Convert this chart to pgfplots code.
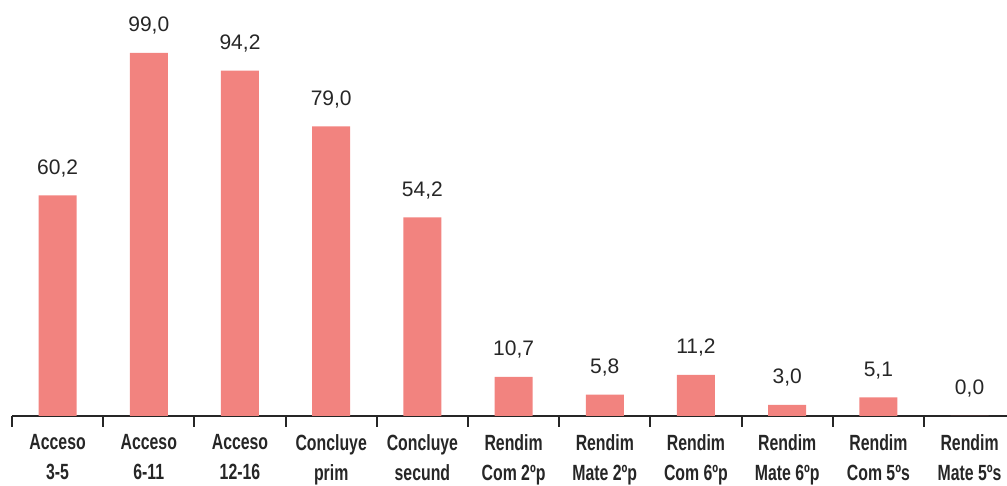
\documentclass[border=0pt]{standalone}
\usepackage{pgfplots}
\pgfplotsset{compat=1.18}
\usepackage{fontspec}
\setmainfont{Liberation Sans}
\newfontfamily\narrowbold[FakeStretch=0.72]{Liberation Sans Bold}
\definecolor{barcol}{HTML}{F2837F}
\begin{document}
\begin{tikzpicture}
\begin{axis}[
  at={(12pt,70pt)}, anchor=south west,
  scale only axis, width=1003.2pt, height=416pt,
  xmin=-0.5, xmax=10.5, ymin=0, ymax=113.45,
  axis x line*=bottom, axis y line=none,
  axis line style={line width=2pt, black!85},
  xtick={0,...,10},
  xticklabels={{Acceso\\3-5},{Acceso\\6-11},{Acceso\\12-16},{Concluye\\prim},{Concluye\\secund},{Rendim\\Com 2ºp},{Rendim\\Mate 2ºp},{Rendim\\Com 6ºp},{Rendim\\Mate 6ºp},{Rendim\\Com 5ºs},{Rendim\\Mate 5ºs}},
  major tick length=0pt,
  minor xtick={-0.5,0.5,...,10.5},
  minor tick length=11pt,
  tick align=outside,
  minor tick style={line width=2pt, black!85},
  xticklabel style={align=center, font=\fontsize{22}{30}\selectfont\narrowbold, text=black!85, yshift=-15pt},
  ytick=\empty,
  ybar, bar width=38pt,
  nodes near coords,
  nodes near coords style={font=\fontsize{21}{24}\selectfont, text=black!85, anchor=center, yshift=27pt,
    /pgf/number format/.cd, fixed, fixed zerofill, precision=1, use comma, assume math mode=true},
  clip=false,
]
\addplot[fill=barcol, draw=none] coordinates {
(0,60.2) (1,99.0) (2,94.2) (3,79.0) (4,54.2) (5,10.7) (6,5.8) (7,11.2) (8,3.0) (9,5.1) (10,0.0)};
\end{axis}
\pgfresetboundingbox
\path[use as bounding box] (0,0) rectangle (1007pt,486pt);
\end{tikzpicture}
\end{document}
